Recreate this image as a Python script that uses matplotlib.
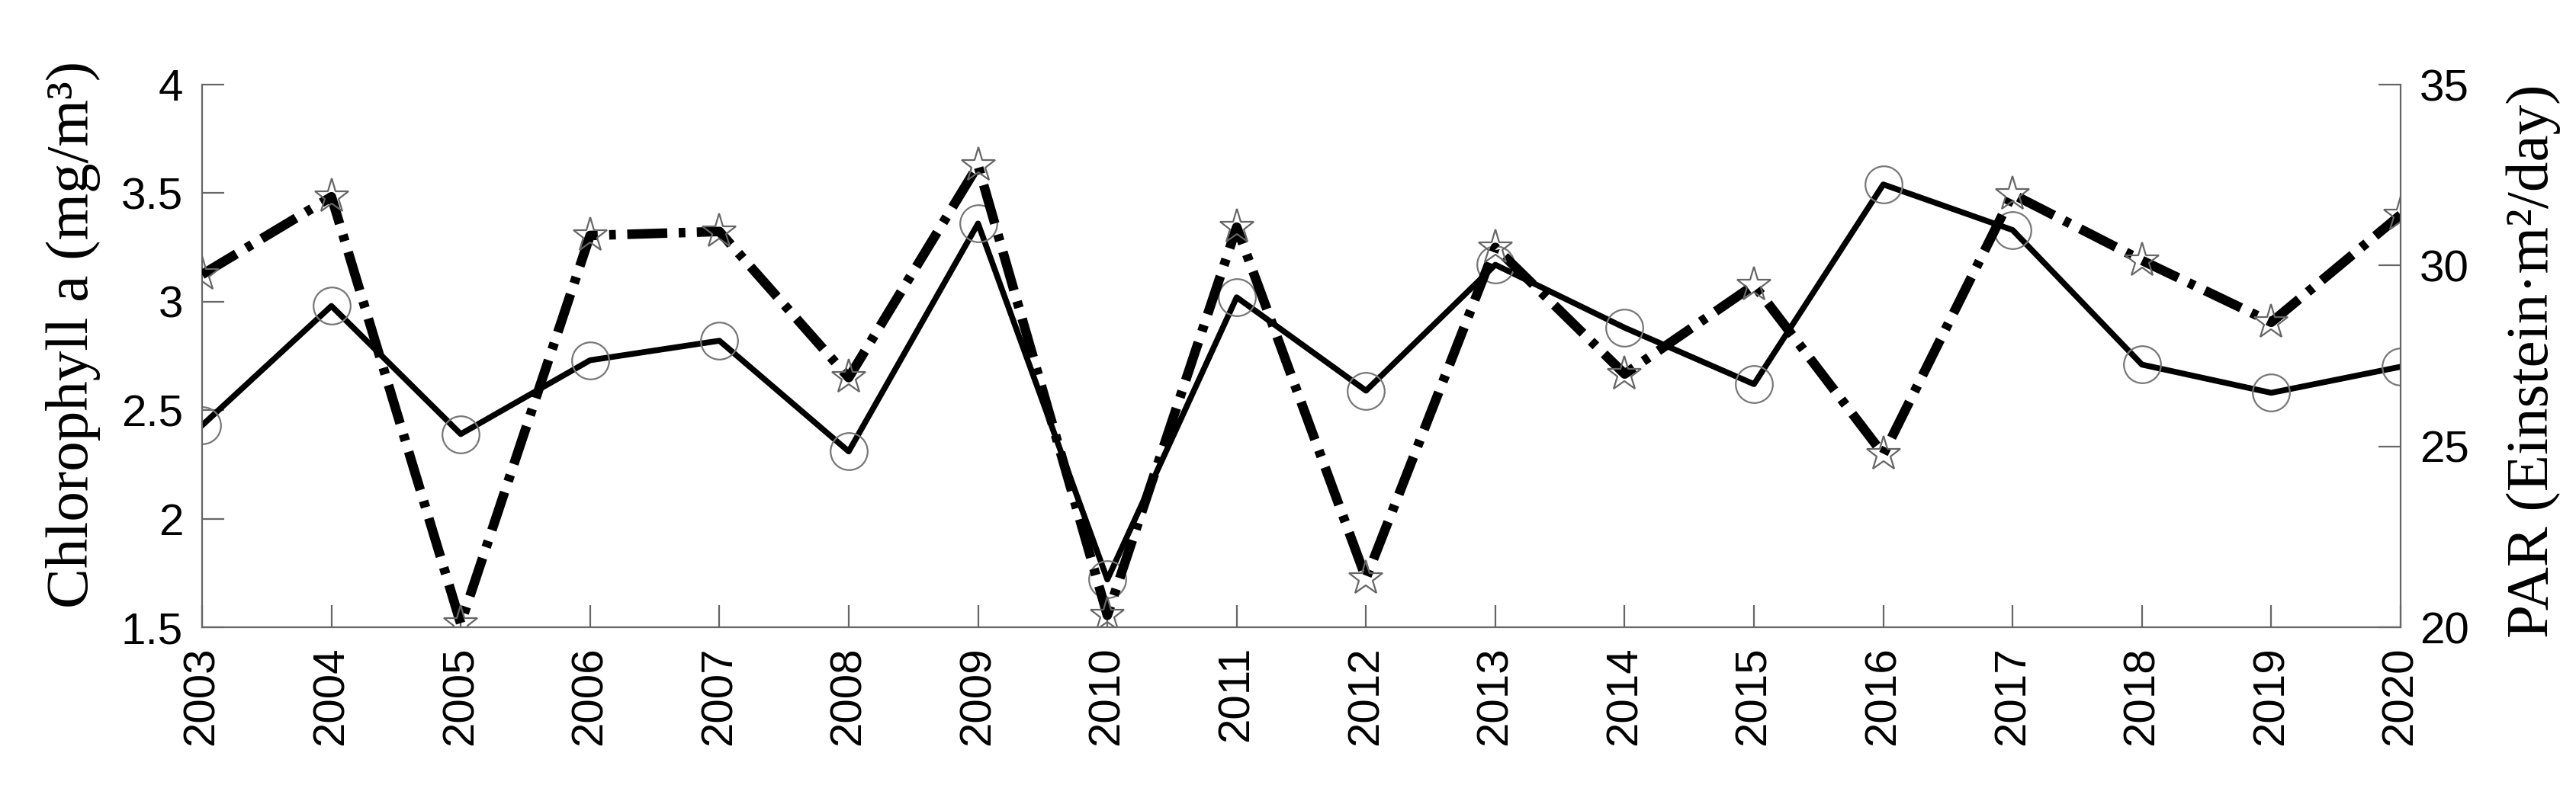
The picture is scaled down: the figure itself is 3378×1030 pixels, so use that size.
import numpy as np
import matplotlib
matplotlib.use('Agg')
import matplotlib.pyplot as plt

years = list(range(2003, 2021))
chl = [2.43, 2.98, 2.39, 2.73, 2.82, 2.31, 3.36, 1.72, 3.02, 2.59,
       3.17, 2.88, 2.62, 3.54, 3.33, 2.71, 2.58, 2.70]
par = [29.75, 31.9, 20.1, 30.83, 30.94, 26.9, 32.77, 20.33, 31.06, 21.35,
       30.5, 27.0, 29.46, 24.78, 31.97, 30.14, 28.43, 31.4]

chl_ticks = [1.5, 2, 2.5, 3, 3.5, 4]
par_ticks = [20, 25, 30, 35]

tick_font = 'Liberation Sans'
label_font = 'Liberation Serif'
spine_col = '#666666'

fig = plt.figure(figsize=(33.78, 10.3), dpi=100)
ax1 = fig.add_axes([0.07845, 0.20097, 0.85346, 0.69126])
ax2 = ax1.twinx()

ax1.plot(years, chl, color='k', lw=5.5, marker='o', ms=35,
         mfc='none', mec='#777777', mew=1.6)
ax2.plot(years, par, color='k', lw=9, linestyle=(0, (4.2, 1.2, 0.7, 1.2)),
         marker='*', ms=34, mfc='none', mec='#666666', mew=1.6)

ax1.set_xlim(2003, 2020)
ax1.set_ylim(1.5, 4)
ax2.set_ylim(20, 35)
ax1.set_xticks(years)
ax1.set_xticklabels([str(y) for y in years], rotation=90,
                    fontsize=42, family=tick_font)
ax1.set_yticks(chl_ticks)
ax1.set_yticklabels(['1.5', '2', '2.5', '3', '3.5', '4'],
                    fontsize=42, family=tick_font)
ax2.set_yticks(par_ticks)
ax2.set_yticklabels([str(t) for t in par_ticks], fontsize=42, family=tick_font)

for ax in (ax1, ax2):
    ax.spines['top'].set_visible(False)
    for s in ax.spines.values():
        s.set_color(spine_col)
        s.set_linewidth(1.6)
ax1.spines['right'].set_visible(False)
ax2.spines['left'].set_visible(False)
ax2.spines['bottom'].set_visible(False)

ax1.tick_params(axis='both', direction='in', length=21, width=1.6,
                color=spine_col, pad=18, top=False, right=False)
ax2.tick_params(axis='y', direction='in', length=21, width=1.6,
                color=spine_col, pad=18)

ax1.set_ylabel('Chlorophyll a (mg/m³)', fontsize=57, family=label_font)
ax1.yaxis.set_label_coords(-0.046, 0.54)
ax2.set_ylabel('PAR (Einstein·m²/day)', fontsize=57, family=label_font,
               rotation=90)
ax2.yaxis.set_label_coords(1.048, 0.49)

plt.savefig('out.png', dpi=100)
